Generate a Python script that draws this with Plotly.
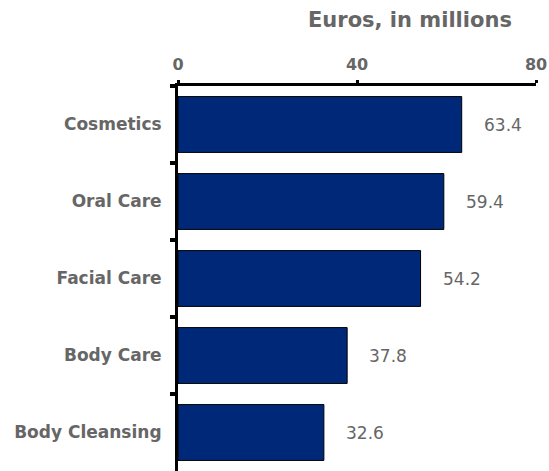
import plotly.graph_objects as go

categories = ["Cosmetics", "Oral Care", "Facial Care", "Body Care", "Body Cleansing"]
values = [63.4, 59.4, 54.2, 37.8, 32.6]
tick_values = [0, 40, 80]

GRAY = "#666666"
NAVY = "#002878"
FONT = "DejaVu Sans, Verdana, sans-serif"

fig = go.Figure(
    go.Bar(
        x=values,
        y=categories,
        orientation="h",
        marker=dict(color=NAVY, line=dict(color="black", width=1)),
        hoverinfo="skip",
    )
)

# value labels to the right of each bar
for cat, val in zip(categories, values):
    fig.add_annotation(
        x=val, y=cat, xref="x", yref="y",
        text=f"{val:.1f}", showarrow=False,
        xanchor="left", yanchor="middle", xshift=20,
        font=dict(family=FONT, size=17, color=GRAY),
    )

fig.add_annotation(
    x=1.0, y=1.0, xref="paper", yref="paper",
    xanchor="right", yanchor="bottom", yshift=52, xshift=-22,
    text="<b>Euros, in millions</b>", showarrow=False,
    font=dict(family=FONT, size=21, color=GRAY),
)

fig.update_layout(
    width=549, height=471,
    margin=dict(l=178, r=13, t=86, b=0),
    paper_bgcolor="white", plot_bgcolor="white",
    bargap=0.275,
    showlegend=False,
    font=dict(family=FONT, color=GRAY),
    xaxis=dict(
        side="top", range=[0, 80], tickvals=tick_values,
        showgrid=False, zeroline=False,
        showline=True, linecolor="black", linewidth=3,
        ticks="outside", ticklen=3, tickwidth=3, tickcolor="black",
        ticklabelstandoff=4,
        tickfont=dict(family=FONT, size=16, color=GRAY, weight="bold"),
        fixedrange=True,
    ),
    yaxis=dict(
        categoryorder="array", categoryarray=categories,
        autorange="reversed",
        showgrid=False, zeroline=False,
        showline=True, linecolor="black", linewidth=3,
        ticks="outside", tickson="boundaries", ticklen=5, tickwidth=4,
        tickcolor="black", ticklabelstandoff=10,
        tickfont=dict(family=FONT, size=17, color=GRAY, weight="bold"),
        fixedrange=True,
    ),
)

fig.write_html("out.html")
